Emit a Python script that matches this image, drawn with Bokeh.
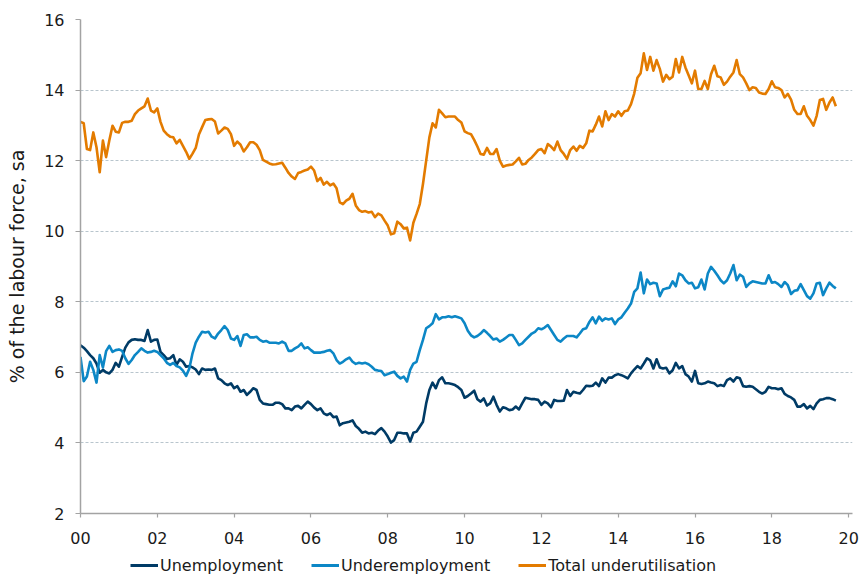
from bokeh.plotting import figure
from bokeh.layouts import column
from bokeh.models import FixedTicker, Legend, LegendItem, Range1d
from bokeh.embed import file_html
from bokeh.resources import INLINE

# ---- data (monthly, seasonally adjusted, % of labour force), Jan 2000 onwards ----
start_year = 2000

unemployment = [
    6.77, 6.70, 6.60, 6.49, 6.40, 6.25, 5.99, 6.07, 6.00, 5.97, 6.07, 6.27,  # 2000
    6.16, 6.44, 6.70, 6.85, 6.92, 6.94, 6.92, 6.92, 6.89, 7.20, 6.87, 6.92,  # 2001
    6.93, 6.58, 6.49, 6.38, 6.40, 6.49, 6.21, 6.37, 6.30, 6.16, 6.18, 6.14,  # 2002
    6.08, 5.95, 6.11, 6.07, 6.08, 6.07, 6.11, 5.83, 5.78, 5.69, 5.64, 5.69,  # 2003
    5.55, 5.61, 5.45, 5.50, 5.36, 5.45, 5.55, 5.50, 5.22, 5.12, 5.10, 5.08,  # 2004
    5.08, 5.14, 5.14, 5.10, 4.98, 4.98, 4.93, 5.03, 5.05, 4.98, 5.08, 5.17,  # 2005
    5.10, 5.00, 4.93, 4.98, 4.84, 4.79, 4.84, 4.73, 4.75, 4.50, 4.56, 4.58,  # 2006
    4.60, 4.64, 4.48, 4.40, 4.29, 4.32, 4.27, 4.29, 4.25, 4.35, 4.42, 4.32,  # 2007
    4.18, 4.01, 4.08, 4.29, 4.29, 4.27, 4.27, 4.04, 4.29, 4.32, 4.46, 4.60,  # 2008
    5.12, 5.50, 5.71, 5.55, 5.78, 5.86, 5.69, 5.69, 5.67, 5.64, 5.58, 5.50,  # 2009
    5.28, 5.33, 5.40, 5.48, 5.24, 5.17, 5.26, 5.06, 5.12, 5.31, 5.08, 4.89,  # 2010
    5.01, 4.98, 4.93, 4.95, 5.03, 4.95, 5.12, 5.28, 5.26, 5.24, 5.24, 5.22,  # 2011
    5.08, 5.17, 5.12, 5.01, 5.22, 5.19, 5.19, 5.20, 5.50, 5.33, 5.45, 5.42,  # 2012
    5.40, 5.50, 5.62, 5.61, 5.62, 5.71, 5.61, 5.83, 5.71, 5.85, 5.85, 5.92,  # 2013
    5.95, 5.92, 5.88, 5.83, 5.97, 6.08, 6.18, 6.11, 6.25, 6.40, 6.34, 6.11,  # 2014
    6.37, 6.14, 6.11, 6.13, 5.97, 6.06, 6.27, 6.11, 6.18, 5.95, 5.88, 5.74,  # 2015
    6.04, 5.69, 5.67, 5.69, 5.74, 5.71, 5.69, 5.61, 5.64, 5.61, 5.78, 5.83,  # 2016
    5.74, 5.86, 5.83, 5.61, 5.59, 5.61, 5.59, 5.52, 5.45, 5.40, 5.45, 5.59,  # 2017
    5.55, 5.55, 5.52, 5.55, 5.39, 5.33, 5.29, 5.22, 5.03, 5.03, 5.10, 4.98,  # 2018
    5.05, 4.96, 5.12, 5.22, 5.24, 5.27, 5.27, 5.24, 5.20,                    # 2019
]

underemployment = [
    6.44, 5.75, 5.88, 6.30, 6.07, 5.71, 6.49, 6.14, 6.60, 6.75, 6.58, 6.63,  # 2000
    6.65, 6.61, 6.40, 6.24, 6.35, 6.49, 6.58, 6.68, 6.61, 6.56, 6.58, 6.61,  # 2001
    6.58, 6.49, 6.40, 6.27, 6.21, 6.27, 6.18, 6.14, 6.05, 5.90, 6.11, 6.54,  # 2002
    6.84, 7.01, 7.15, 7.13, 7.15, 7.01, 6.96, 7.10, 7.20, 7.31, 7.20, 6.96,  # 2003
    6.92, 7.03, 6.75, 7.06, 7.08, 6.99, 6.99, 7.01, 6.92, 6.87, 6.89, 6.84,  # 2004
    6.84, 6.84, 6.82, 6.87, 6.82, 6.61, 6.61, 6.68, 6.73, 6.82, 6.68, 6.71,  # 2005
    6.63, 6.56, 6.56, 6.56, 6.58, 6.61, 6.63, 6.54, 6.35, 6.25, 6.30, 6.37,  # 2006
    6.42, 6.30, 6.24, 6.27, 6.25, 6.27, 6.23, 6.16, 6.07, 6.05, 6.04, 5.92,  # 2007
    5.95, 5.99, 6.02, 5.90, 5.83, 5.88, 5.74, 6.07, 6.25, 6.30, 6.63, 6.92,  # 2008
    7.25, 7.31, 7.39, 7.65, 7.50, 7.56, 7.56, 7.59, 7.56, 7.59, 7.56, 7.53,  # 2009
    7.39, 7.18, 7.05, 6.99, 7.03, 7.10, 7.20, 7.12, 7.03, 6.93, 6.96, 6.87,  # 2010
    6.92, 6.99, 7.06, 7.06, 6.92, 6.77, 6.82, 6.92, 7.01, 7.10, 7.15, 7.25,  # 2011
    7.22, 7.27, 7.34, 7.20, 7.06, 6.92, 6.87, 6.96, 7.03, 7.03, 7.03, 6.99,  # 2012
    7.10, 7.22, 7.25, 7.43, 7.56, 7.39, 7.58, 7.46, 7.53, 7.50, 7.53, 7.37,  # 2013
    7.50, 7.56, 7.69, 7.81, 7.95, 8.28, 8.38, 8.83, 8.24, 8.63, 8.50, 8.54,  # 2014
    8.52, 8.16, 8.35, 8.38, 8.40, 8.58, 8.44, 8.80, 8.75, 8.61, 8.52, 8.54,  # 2015
    8.38, 8.41, 8.63, 8.35, 8.80, 8.99, 8.88, 8.75, 8.61, 8.52, 8.61, 8.80,  # 2016
    9.04, 8.61, 8.77, 8.71, 8.42, 8.52, 8.58, 8.56, 8.54, 8.52, 8.52, 8.75,  # 2017
    8.54, 8.56, 8.50, 8.42, 8.56, 8.47, 8.22, 8.31, 8.33, 8.50, 8.33, 8.16,  # 2018
    8.09, 8.24, 8.52, 8.54, 8.19, 8.38, 8.54, 8.45, 8.38,                    # 2019
]

total_underutilisation = [
    13.10, 13.06, 12.33, 12.30, 12.80, 12.38, 11.67, 12.57, 12.10, 12.57, 12.99, 12.82,  # 2000
    12.80, 13.07, 13.10, 13.10, 13.13, 13.32, 13.42, 13.48, 13.54, 13.76, 13.42, 13.37,  # 2001
    13.48, 13.10, 12.85, 12.75, 12.68, 12.66, 12.49, 12.59, 12.42, 12.25, 12.05, 12.20,  # 2002
    12.36, 12.74, 12.95, 13.15, 13.17, 13.18, 13.11, 12.77, 12.85, 12.94, 12.90, 12.75,  # 2003
    12.42, 12.54, 12.45, 12.26, 12.38, 12.52, 12.52, 12.45, 12.30, 12.02, 11.97, 11.92,  # 2004
    11.89, 11.90, 11.92, 11.94, 11.80, 11.65, 11.55, 11.48, 11.65, 11.68, 11.72, 11.75,  # 2005
    11.83, 11.72, 11.42, 11.51, 11.32, 11.40, 11.30, 11.35, 11.22, 10.82, 10.77, 10.87,  # 2006
    10.92, 11.06, 10.73, 10.60, 10.55, 10.57, 10.53, 10.55, 10.40, 10.50, 10.45, 10.30,  # 2007
    10.16, 9.91, 9.94, 10.27, 10.20, 10.08, 10.10, 9.74, 10.24, 10.49, 10.77, 11.34,     # 2008
    12.00, 12.66, 13.06, 12.94, 13.44, 13.34, 13.23, 13.25, 13.25, 13.25, 13.15, 13.08,  # 2009
    12.83, 12.78, 12.75, 12.59, 12.40, 12.19, 12.17, 12.36, 12.19, 12.19, 12.33, 12.00,  # 2010
    11.83, 11.86, 11.88, 11.89, 11.98, 12.08, 11.89, 11.91, 12.02, 12.09, 12.19, 12.30,  # 2011
    12.33, 12.21, 12.47, 12.40, 12.30, 12.54, 12.30, 12.19, 12.05, 12.30, 12.40, 12.28,  # 2012
    12.42, 12.36, 12.49, 12.85, 12.83, 13.02, 13.25, 12.97, 13.40, 13.15, 13.32, 13.25,  # 2013
    13.40, 13.27, 13.40, 13.42, 13.60, 13.90, 14.35, 14.48, 15.04, 14.57, 14.94, 14.55,  # 2014
    14.85, 14.60, 14.24, 14.43, 14.31, 14.38, 14.88, 14.50, 14.94, 14.64, 14.42, 14.19,  # 2015
    14.55, 14.03, 14.03, 14.26, 14.03, 14.45, 14.69, 14.39, 14.36, 14.15, 14.24, 14.38,  # 2016
    14.50, 14.85, 14.45, 14.36, 14.19, 14.00, 14.08, 14.06, 13.93, 13.90, 13.89, 14.03,  # 2017
    14.25, 14.08, 14.06, 14.00, 13.79, 13.89, 13.73, 13.44, 13.32, 13.32, 13.54, 13.27,  # 2018
    13.15, 12.99, 13.27, 13.72, 13.75, 13.44, 13.65, 13.79, 13.54,                       # 2019
]

series_names = ["Unemployment", "Underemployment", "Total underutilisation"]
tick_years = [2000, 2002, 2004, 2006, 2008, 2010, 2012, 2014, 2016, 2018, 2020]
tick_labels = ["00", "02", "04", "06", "08", "10", "12", "14", "16", "18", "20"]
y_ticks = [2, 4, 6, 8, 10, 12, 14, 16]
y_title = "% of the labour force, sa"

FONT = "DejaVu Sans"
colors = ["#003B66", "#0C87C6", "#E37B00"]


def months_for(values):
    return [start_year + i / 12 for i in range(len(values))]


p = figure(width=862, height=553, output_backend="svg", toolbar_location=None,
           x_range=Range1d(2000, 2020.1), y_range=Range1d(2, 16),
           min_border_left=80, min_border_right=10, min_border_top=19,
           min_border_bottom=40)
p.outline_line_color = None
p.background_fill_color = "white"
p.border_fill_color = "white"

for name, vals, col in zip(series_names,
                           [unemployment, underemployment, total_underutilisation],
                           colors):
    p.line(months_for(vals), vals, line_color=col, line_width=2.6, line_join="round")

# grid
p.xgrid.visible = False
p.ygrid.ticker = FixedTicker(ticks=y_ticks)
p.ygrid.grid_line_color = "#b8c5cd"
p.ygrid.grid_line_dash = "3 2"
p.ygrid.grid_line_width = 1

# axes
axis_col = "#a3a3a3"
for ax in (p.xaxis[0], p.yaxis[0]):
    ax.axis_line_color = axis_col
    ax.axis_line_width = 1.5
    ax.major_tick_line_color = axis_col
    ax.major_tick_line_width = 1.2
    ax.minor_tick_line_color = None
    ax.major_tick_in = 0
    ax.major_label_text_font = FONT
    ax.major_label_text_font_size = "16px"
    ax.major_label_text_color = "#1a1a1a"

p.xaxis[0].ticker = FixedTicker(ticks=tick_years)
p.xaxis[0].major_label_overrides = {y: l for y, l in zip(tick_years, tick_labels)}
p.xaxis[0].major_tick_out = 4
p.xaxis[0].major_label_standoff = 14

p.yaxis[0].ticker = FixedTicker(ticks=y_ticks)
p.yaxis[0].major_tick_out = 5
p.yaxis[0].major_label_standoff = 11
p.yaxis[0].axis_label = y_title
p.yaxis[0].axis_label_text_font = FONT
p.yaxis[0].axis_label_text_font_size = "19px"
p.yaxis[0].axis_label_text_font_style = "normal"
p.yaxis[0].axis_label_text_color = "#1a1a1a"
p.yaxis[0].axis_label_standoff = 13

# legend strip underneath the chart (its frame is aligned with the chart's frame)
leg = figure(width=862, height=22, output_backend="svg", toolbar_location=None,
             x_range=Range1d(0, 1), y_range=Range1d(0, 1),
             x_axis_type=None, y_axis_type=None,
             min_border_left=80, min_border_right=10, min_border_top=0,
             min_border_bottom=0)
leg.outline_line_color = None
leg.xgrid.visible = False
leg.ygrid.visible = False
nan = float("nan")
key_renderers = [leg.line([nan], [nan], line_color=c, line_width=3) for c in colors]

legend = Legend(
    items=[LegendItem(label=n, renderers=[r]) for n, r in zip(series_names, key_renderers)],
    orientation="horizontal", location=(50, 0),
    glyph_width=28, glyph_height=20, label_height=20, label_standoff=2, spacing=28,
    padding=0, margin=0, border_line_color=None, background_fill_alpha=0,
    label_text_font=FONT, label_text_font_size="16px", label_text_color="#1a1a1a",
)
leg.add_layout(legend)

layout = column(p, leg, spacing=0)
open("out.html", "w").write(file_html(layout, INLINE))
